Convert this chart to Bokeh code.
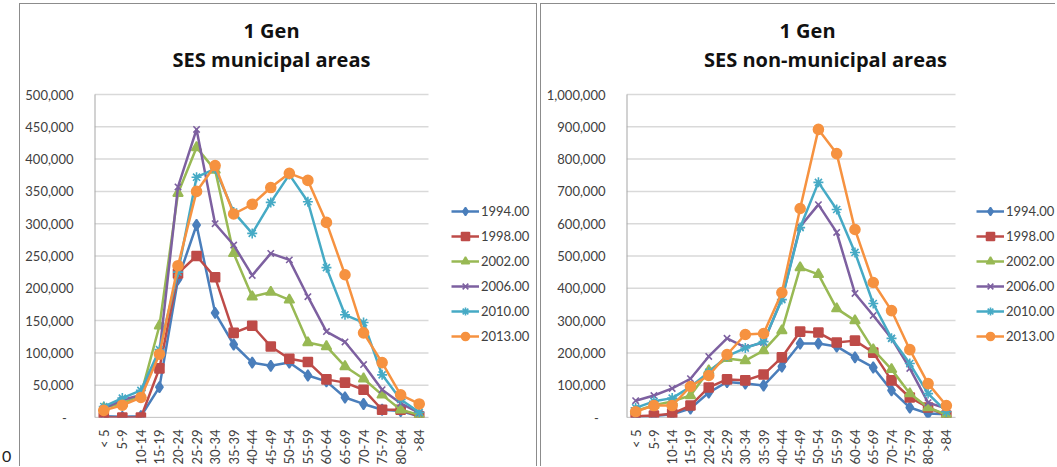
import math
from bokeh.plotting import figure
from bokeh.models import (Range1d, FixedTicker, NumeralTickFormatter,
                          Legend, LegendItem, Label, Div, Spacer)
from bokeh.layouts import row
from bokeh.embed import file_html
from bokeh.resources import INLINE

# ---------------- data ----------------
age_groups = ["< 5", "5-9", "10-14", "15-19", "20-24", "25-29", "30-34", "35-39", "40-44",
              "45-49", "50-54", "55-59", "60-64", "65-69", "70-74", "75-79", "80-84", ">84"]
years = ["1994.00", "1998.00", "2002.00", "2006.00", "2010.00", "2013.00"]

muni_1994 = [2000, 1000, 2000, 47000, 214000, 298000, 162000, 113000, 85000, 80000, 85000, 65000, 56000, 31000, 21000, 12000, 10000, 2000]
muni_1998 = [0, 0, 0, 76000, 223000, 250000, 217000, 131000, 142000, 110000, 91000, 86000, 59000, 54000, 43000, 12000, 12000, 2000]
muni_2002 = [15000, 22000, 35000, 142000, 347000, 418000, 383000, 254000, 187000, 194000, 182000, 116000, 110000, 79000, 60000, 35000, 12000, 4000]
muni_2006 = [14000, 27000, 35000, 100000, 357000, 446000, 300000, 267000, 220000, 254000, 244000, 187000, 133000, 117000, 82000, 43000, 22000, 7000]
muni_2010 = [17000, 30000, 42000, 105000, 225000, 372000, 385000, 318000, 285000, 333000, 376000, 334000, 232000, 159000, 147000, 66000, 28000, 8000]
muni_2013 = [11000, 19000, 31000, 98000, 235000, 350000, 390000, 315000, 330000, 356000, 378000, 367000, 302000, 221000, 131000, 85000, 35000, 21000]

nonmuni_1994 = [3000, 5000, 10000, 28000, 77000, 110000, 105000, 99000, 158000, 229000, 229000, 220000, 186000, 155000, 84000, 31000, 12000, 10000]
nonmuni_1998 = [4000, 6000, 12000, 37000, 93000, 118000, 115000, 133000, 186000, 266000, 263000, 232000, 238000, 201000, 115000, 62000, 31000, 6000]
nonmuni_2002 = [20000, 38000, 50000, 68000, 145000, 183000, 176000, 207000, 269000, 464000, 443000, 337000, 300000, 210000, 149000, 74000, 31000, 9000]
nonmuni_2006 = [52000, 68000, 90000, 120000, 189000, 245000, 217000, 232000, 368000, 591000, 659000, 573000, 384000, 316000, 245000, 152000, 46000, 28000]
nonmuni_2010 = [30000, 50000, 60000, 95000, 140000, 190000, 215000, 235000, 365000, 588000, 728000, 644000, 511000, 353000, 245000, 167000, 74000, 18000]
nonmuni_2013 = [18000, 37000, 37000, 96000, 130000, 195000, 257000, 260000, 387000, 647000, 892000, 817000, 582000, 418000, 331000, 210000, 105000, 37000]

muni_ticks = [0, 50000, 100000, 150000, 200000, 250000, 300000, 350000, 400000, 450000, 500000]
nonmuni_ticks = [0, 100000, 200000, 300000, 400000, 500000, 600000, 700000, 800000, 900000, 1000000]

muni_series = [muni_1994, muni_1998, muni_2002, muni_2006, muni_2010, muni_2013]
nonmuni_series = [nonmuni_1994, nonmuni_1998, nonmuni_2002, nonmuni_2006, nonmuni_2010, nonmuni_2013]

title_top = "1 Gen"
title_muni = "SES municipal areas"
title_nonmuni = "SES non-municipal areas"

# ---------------- style ----------------
FONT = "Lato"
TITLE_FONT = "Open Sans"
TEXT = "#404040"
GRID = "#d9d9d9"
AXIS = "#a6a6a6"
COLORS = ["#4A7EBB", "#BE4B48", "#98B954", "#7D60A0", "#46AAC5", "#F69240"]
MARKERS = ["diamond", "square", "triangle", "x", "asterisk", "circle"]
SIZES = [11, 9, 10, 9, 10, 10]

FIG_H = 463          # figure spans page y 4..467
BOTTOM = 50          # frame bottom at page y 417
PLOT_PX = 323        # pixels from 0 to the top tick


def make_panel(width, left, plot_w, ticks, series, titles, legend_x, shadow):
    n = len(age_groups)
    frame_w = width - left
    frame_h = FIG_H - BOTTOM
    top = ticks[-1]
    x_end = n * frame_w / plot_w
    y_end = top * frame_h / PLOT_PX
    xs = [i + 0.5 for i in range(n)]

    p = figure(x_range=Range1d(0, x_end), y_range=Range1d(0, y_end),
               width=width, height=FIG_H, output_backend="svg", toolbar_location=None,
               min_border_left=left, min_border_right=0,
               min_border_top=0, min_border_bottom=BOTTOM)
    p.margin = (4, 0, 0, 0)
    p.outline_line_color = None
    p.background_fill_color = "white"
    p.border_fill_color = "white"
    p.styles = {"box-shadow": shadow}
    p.xgrid.grid_line_color = None
    p.ygrid.grid_line_color = None

    # gridlines and axis lines (limited to the category span)
    p.segment(x0=[0] * len(ticks), x1=[n] * len(ticks), y0=ticks, y1=ticks,
              line_color=GRID, line_width=1.5)
    p.segment(x0=[0], x1=[n], y0=[0], y1=[0], line_color=AXIS, line_width=1)
    p.segment(x0=[0], x1=[0], y0=[0], y1=[top], line_color=AXIS, line_width=2)

    items = []
    for yr, vals, col, mk, sz in zip(years, series, COLORS, MARKERS, SIZES):
        lr = p.line(x=xs, y=vals, line_color=col, line_width=2.5)
        sr = p.scatter(x=xs, y=vals, marker=mk, size=sz, fill_color=col,
                       line_color=col, line_width=1.6)
        items.append(LegendItem(label=yr, renderers=[lr, sr]))

    legend = Legend(items=items, location=(legend_x, 71), orientation="vertical",
                    glyph_width=28, glyph_height=20, label_height=20, spacing=5,
                    label_standoff=2, padding=0, margin=0,
                    border_line_color=None, background_fill_alpha=0,
                    label_text_font=FONT, label_text_font_size="13px",
                    label_text_color=TEXT)
    p.add_layout(legend, "center")

    p.xaxis.ticker = FixedTicker(ticks=xs)
    p.xaxis.major_label_overrides = {x: g for x, g in zip(xs, age_groups)}
    p.xaxis.major_label_orientation = math.pi / 2
    p.xaxis.major_tick_line_color = None
    p.xaxis.minor_tick_line_color = None
    p.xaxis.axis_line_color = None
    p.xaxis.major_label_standoff = 6
    p.xaxis.major_label_text_font = FONT
    p.xaxis.major_label_text_font_size = "13px"
    p.xaxis.major_label_text_color = TEXT

    p.yaxis.ticker = FixedTicker(ticks=ticks)
    p.yaxis.formatter = NumeralTickFormatter(format="0,0")
    p.yaxis.major_label_overrides = {0: "-\u00a0\u00a0"}
    p.yaxis.major_tick_line_color = None
    p.yaxis.minor_tick_line_color = None
    p.yaxis.axis_line_color = None
    p.yaxis.major_label_standoff = 15
    p.yaxis.major_label_text_font = FONT
    p.yaxis.major_label_text_font_size = "13px"
    p.yaxis.major_label_text_color = TEXT

    for txt, cx, base in titles:
        p.add_layout(Label(x=cx, y=base, x_units="screen", y_units="screen", text=txt,
                           text_align="center", text_baseline="alphabetic",
                           text_font=TITLE_FONT, text_font_style="bold",
                           text_font_size="20px", text_color="#111111"))
    return p


# left panel canvas: page x 21..537 ; frame from x 95 ; categories span 334 px
# right panel canvas: page x 542..1057 ; frame from x 627 ; categories span 329 px
p1 = make_panel(516, 74, 334, muni_ticks, muni_series,
                [(title_top, 272 - 95, 417 - 30), (title_muni, 272 - 95, 417 - 59)], 357,
                "-1px -1px 0 0 #8c8c8c, 1px -1px 0 0 #8c8c8c")
p2 = make_panel(515, 85, 329, nonmuni_ticks, nonmuni_series,
                [(title_top, 808 - 627, 417 - 30), (title_nonmuni, 826 - 627, 417 - 59)], 350,
                "-1px -1px 0 0 #8c8c8c")

zero = Div(text="0", width=18, height=18, margin=(448, 0, 0, 2),
           styles={"font-family": "Lato", "font-size": "16px", "line-height": "16px",
                   "color": "#222222"})

layout = row(zero, p1, Spacer(width=5, height=467, margin=0), p2, margin=0)

open("out.html", "w").write(file_html(layout, INLINE))
